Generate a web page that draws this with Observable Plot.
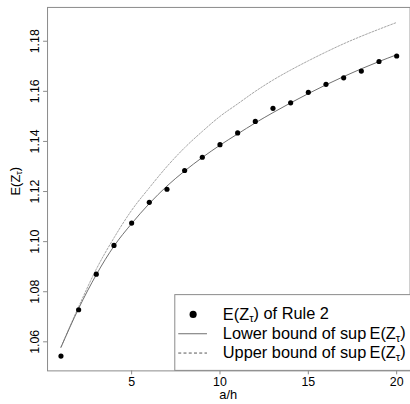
<!DOCTYPE html>
<html><head><meta charset="utf-8">
<script src="https://cdn.jsdelivr.net/npm/d3@7"></script>
<script src="https://cdn.jsdelivr.net/npm/@observablehq/plot@0.6"></script>
<style>
html,body{margin:0;padding:0;background:#fff;overflow:hidden}
#wrap{position:relative;width:410px;height:404px;overflow:hidden}
</style>
</head><body>
<div id="wrap"></div>
<script>
const aOverH = [1,2,3,4,5,6,7,8,9,10,11,12,13,14,15,16,17,18,19,20];
const rule2 = [1.0543,1.0728,1.0870,1.0985,1.1074,1.1157,1.1209,1.1284,1.1337,1.1387,1.1434,1.1480,1.1532,1.1554,1.1596,1.1628,1.1654,1.1681,1.1719,1.1741];
const lowerBound = [1.0578,1.0733,1.0868,1.0982,1.1072,1.1152,1.1222,1.1282,1.1336,1.1385,1.1430,1.1474,1.1515,1.1554,1.1591,1.1626,1.1659,1.1690,1.1719,1.1746];
const upperBound = [1.0579,1.0740,1.0890,1.1015,1.1125,1.1215,1.1300,1.1375,1.1440,1.1500,1.1550,1.1600,1.1645,1.1685,1.1722,1.1757,1.1790,1.1820,1.1848,1.1875];
const xTicks = [5,10,15,20];
const yTicks = [1.06,1.08,1.10,1.12,1.14,1.16,1.18];
const legendLabels = ["of Rule 2","Lower bound of sup","Upper bound of sup"];

const rows = aOverH.map((x,i)=>({x, rule2: rule2[i], lower: lowerBound[i], upper: upperBound[i]}));
const FONT = '"Liberation Sans", Arial, Helvetica, sans-serif';
const FRAME = "#8a8a8a";

const chart = Plot.plot({
  width: 414, height: 404,
  marginLeft: 47.5, marginRight: 0.4, marginTop: 7, marginBottom: 30,
  x: {domain: [0.24, 20.76]},
  y: {domain: [1.0484, 1.1935]},
  style: {fontFamily: FONT, fontSize: "12px", color: "black", background: "white"},
  marks: [
    Plot.frame({stroke: FRAME, strokeWidth: 1}),
    Plot.axisX({ticks: xTicks, tickSize: 4, tickPadding: 2, label: null, tickFormat: d => String(d), stroke: FRAME, fill: "black", fontSize: 12.5}),
    Plot.axisY({ticks: yTicks, tickSize: 4, label: null, tickFormat: () => "", stroke: FRAME}),
    Plot.text(yTicks, {x: () => 0.24, y: d => d, text: d => d.toFixed(2), rotate: -90, dx: -13, fontSize: 12.5, fill: "black"}),
    Plot.line(rows, {x: "x", y: "upper", stroke: "#8c8c8c", strokeWidth: 0.8, strokeDasharray: "1.8,1.6", curve: "monotone-x"}),
    Plot.line(rows, {x: "x", y: "lower", stroke: "#6e6e6e", strokeWidth: 1, curve: "monotone-x"}),
    Plot.dot(rows, {x: "x", y: "rule2", r: 2.6, fill: "black", stroke: "none"})
  ]
});
document.getElementById("wrap").appendChild(chart);

const svg = d3.select(chart);
svg.style("overflow", "visible");

function ezt(sel) {
  sel.append("tspan").text("E(Z");
  sel.append("tspan").attr("font-size", "0.68em").attr("dy", "0.22em").text("τ");
  sel.append("tspan").attr("dy", "-0.22em").text(")");
}

// axis titles
svg.append("text").attr("x", 230.5).attr("y", 403).attr("text-anchor", "middle")
  .attr("font-size", 13).attr("font-family", FONT).attr("fill", "black").text("a/h");
const yl = svg.append("text").attr("transform", "translate(20,183) rotate(-90)").attr("text-anchor", "middle")
  .attr("font-size", 13).attr("font-family", FONT).attr("fill", "black");
ezt(yl);

// legend
const lg = svg.append("g").attr("font-family", FONT).attr("font-size", 16.5).attr("fill", "black").attr("text-anchor", "start");
lg.append("rect").attr("x", 176.5).attr("y", 297.5).attr("width", 260).attr("height", 76.5)
  .attr("fill", "white").attr("stroke", FRAME).attr("stroke-width", 1);
const rowY = [317.5, 337, 356.5];
lg.append("circle").attr("cx", 195).attr("cy", rowY[0]).attr("r", 3.6).attr("fill", "black");
lg.append("line").attr("x1", 180).attr("x2", 209).attr("y1", rowY[1]).attr("y2", rowY[1]).attr("stroke", "#6e6e6e").attr("stroke-width", 1);
lg.append("line").attr("x1", 180).attr("x2", 209).attr("y1", rowY[2]).attr("y2", rowY[2]).attr("stroke", "#555").attr("stroke-width", 1).attr("stroke-dasharray", "3,2.3");
const t0 = lg.append("text").attr("x", 225).attr("y", rowY[0] + 5.5).attr("text-anchor", "start");
ezt(t0); t0.append("tspan").text(" " + legendLabels[0]);
const t1 = lg.append("text").attr("x", 225).attr("y", rowY[1] + 5.5).attr("text-anchor", "start");
t1.append("tspan").text(legendLabels[1] + "\u2009"); ezt(t1);
const t2 = lg.append("text").attr("x", 225).attr("y", rowY[2] + 5.5).attr("text-anchor", "start");
t2.append("tspan").text(legendLabels[2] + "\u2009"); ezt(t2);
</script>
</body></html>
